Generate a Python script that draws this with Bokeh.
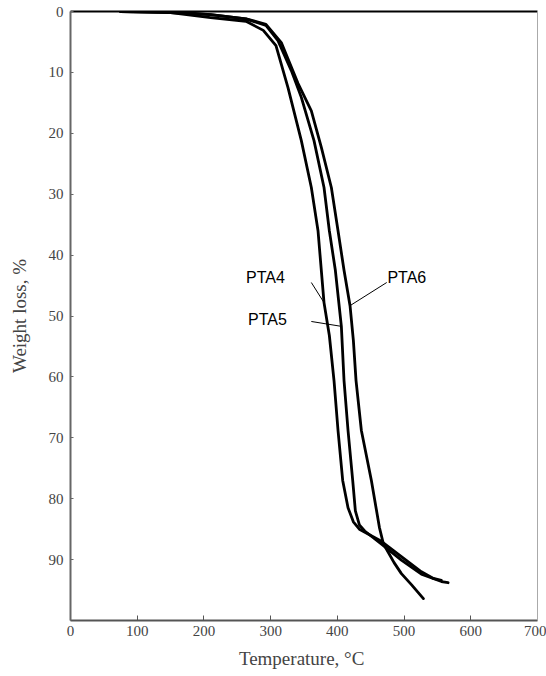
from bokeh.plotting import figure
from bokeh.models import Range1d, FixedTicker, LinearAxis
from bokeh.core.properties import value
from bokeh.embed import file_html
from bokeh.resources import INLINE

# Temperature (°C) and weight loss (%)
pta4_T = [75, 150, 210, 263, 289, 308, 326, 346, 361, 371, 380, 388, 395, 401, 408, 416, 424, 433, 466, 496, 526, 544, 556]
pta4_W = [0, 0.2, 1.0, 1.6, 3.1, 5.6, 12.5, 21.2, 28.9, 36.0, 47.8, 53.2, 60.6, 68.8, 77.0, 81.5, 83.8, 85.0, 87.0, 89.5, 92.0, 93.1, 93.4]

pta5_T = [75, 150, 210, 263, 293, 311, 331, 346, 365, 380, 388, 397, 406, 410, 416, 423, 427, 433, 441, 470, 496, 526, 556, 566]
pta5_W = [0, 0.2, 0.5, 1.2, 2.3, 4.8, 9.7, 14.1, 21.2, 28.9, 36.0, 42.5, 51.7, 60.6, 68.8, 77.0, 82.0, 84.3, 85.3, 87.8, 90.1, 92.4, 93.6, 93.8]

pta6_T = [75, 150, 210, 263, 293, 316, 341, 361, 376, 391, 401, 410, 419, 424, 428, 436, 451, 463, 469, 485, 496, 511, 529]
pta6_W = [0, 0, 0.5, 1.2, 2.1, 5.1, 11.8, 16.3, 22.3, 28.9, 36.0, 42.5, 48.3, 54.0, 60.6, 68.8, 77.0, 84.7, 87.4, 90.5, 92.3, 94.1, 96.4]

label_names = ["PTA4", "PTA5", "PTA6"]
label_T = [263, 266, 475]
label_W = [43.6, 50.5, 43.6]
leader_T0 = [361, 361, 474]
leader_W0 = [44.5, 50.9, 44.5]
leader_T1 = [380, 406, 419]
leader_W1 = [47.8, 51.7, 48.3]

x_ticks = [0, 100, 200, 300, 400, 500, 600, 700]
y_ticks = [0, 10, 20, 30, 40, 50, 60, 70, 80, 90]

p = figure(width=546, height=676, output_backend="svg", toolbar_location=None,
           x_range=Range1d(0, 700), y_range=Range1d(100, 0))
p.min_border_left = 70
p.min_border_right = 9
p.min_border_top = 11
p.min_border_bottom = 56
p.background_fill_color = "white"
p.border_fill_color = "white"
p.outline_line_color = None
p.xgrid.visible = False
p.ygrid.visible = False

for T, W in [(pta4_T, pta4_W), (pta5_T, pta5_W), (pta6_T, pta6_W)]:
    p.line(T, W, line_color="black", line_width=2.8, line_join="round", line_cap="round")

p.segment(x0=leader_T0, y0=leader_W0, x1=leader_T1, y1=leader_W1, line_color="black", line_width=1)
p.text(x=label_T, y=label_W, text=label_names, text_font=value("Liberation Sans"),
       text_font_size="16px", text_baseline="middle", text_align="left", text_color="black")

serif = "Liberation Serif"
xa = p.xaxis[0]
xa.ticker = FixedTicker(ticks=x_ticks)
xa.axis_label = "Temperature,  °C"
xa.axis_label_text_font = serif
xa.axis_label_text_font_style = "normal"
xa.axis_label_text_font_size = "19px"
xa.axis_label_standoff = 9
xa.major_label_text_font = serif
xa.major_label_text_font_size = "15px"
xa.major_label_standoff = 5
xa.major_tick_in = 5
xa.major_tick_out = 0
xa.minor_tick_line_color = None
xa.axis_line_color = "#555555"
xa.axis_line_width = 2
xa.major_tick_line_color = "#555555"

ya = p.yaxis[0]
ya.ticker = FixedTicker(ticks=y_ticks)
ya.axis_label = "Weight loss, %"
ya.axis_label_text_font = serif
ya.axis_label_text_font_style = "normal"
ya.axis_label_text_font_size = "19px"
ya.axis_label_standoff = 16
ya.major_label_text_font = serif
ya.major_label_text_font_size = "15px"
ya.major_label_standoff = 7
ya.major_tick_in = 3
ya.major_tick_out = 0
ya.minor_tick_line_color = None
ya.axis_line_color = "#666666"
ya.axis_line_width = 2
ya.major_tick_line_color = "#666666"

top = LinearAxis(ticker=FixedTicker(ticks=[]), major_label_text_font_size="0px",
                 axis_line_color="black", axis_line_width=2, major_tick_line_color=None,
                 minor_tick_line_color=None)
right = LinearAxis(ticker=FixedTicker(ticks=[]), major_label_text_font_size="0px",
                   axis_line_color="#aaaaaa", axis_line_width=1, major_tick_line_color=None,
                   minor_tick_line_color=None)
p.add_layout(top, "above")
p.add_layout(right, "right")

open("out.html", "w").write(file_html(p, INLINE))
